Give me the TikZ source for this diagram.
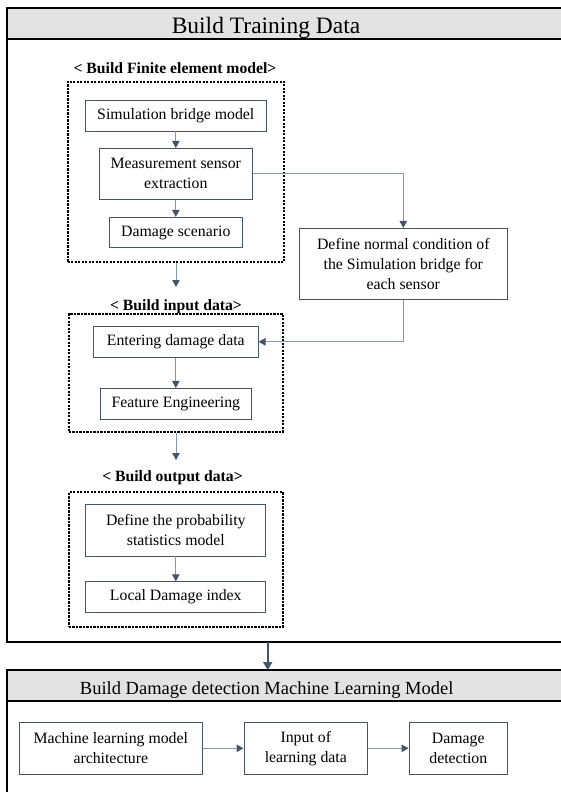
\documentclass[tikz,border=0pt]{standalone}
\usepackage{fontspec}
\setmainfont{Liberation Serif}
\usetikzlibrary{arrows.meta}
\definecolor{boxline}{RGB}{68,84,106}
\definecolor{linkline}{RGB}{132,151,176}
\definecolor{headfill}{RGB}{227,227,227}
\newcommand{\grouplabel}[1]{\textbf{< #1>}}

\begin{document}
\begin{tikzpicture}[x = 1pt, y = -1pt,
	box/.style = {rectangle, draw = boxline, line width = 0.8pt, align = center, inner sep = 0pt, font = \fontsize{15.8}{20}\selectfont},
	group/.style = {rectangle, draw = black, line width = 2.2pt, dash pattern = on 2.2pt off 1.3pt, inner sep = 0pt},
	tag/.style = {anchor = base, inner sep = 0pt, font = \fontsize{15.7}{19}\selectfont},
	frame/.style = {draw = black, line width = 2pt},
	link/.style = {draw = linkline, line width = 0.9pt, -{Triangle[length = 7pt, width = 7.5pt, color = boxline]}},
	biglink/.style = {draw = boxline, line width = 1.8pt, -{Triangle[length = 8pt, width = 9pt]}}]

	\clip (0, 0) rectangle (561, 792);

	% frames
	\draw[frame] (7.3, 8.3) rectangle (566, 641.7);
	\draw[frame, fill = headfill] (7.3, 8.3) rectangle (566, 39.5);
	\node (traintitle) at (266, 33.3) [tag, font = \fontsize{23.5}{28}\selectfont] {Build Training Data};
	\draw[frame] (7.3, 670) rectangle (566, 800);
	\draw[frame, fill = headfill] (7.3, 670) rectangle (566, 701);
	\node (mltitle) at (266.7, 694.3) [tag, font = \fontsize{18.5}{22}\selectfont] {Build Damage detection Machine Learning Model};

	% groups
	\node (fe)  at (176, 171.7) [group, minimum width = 216.6, minimum height = 180] {};
	\node (in)  at (176, 372.8) [group, minimum width = 214.3, minimum height = 117.7] {};
	\node (out) at (176, 559.5) [group, minimum width = 214.3, minimum height = 134.4] {};
	\node (felabel)  at (175, 74)    [tag] {\grouplabel{Build Finite element model}};
	\node (inlabel)  at (176, 310.5) [tag] {\grouplabel{Build input data}};
	\node (outlabel) at (172.5, 481.7) [tag] {\grouplabel{Build output data}};

	% steps
	\node (sim)   at (175.8, 115.5) [box, minimum width = 181.7, minimum height = 31]   {Simulation bridge model};
	\node (meas)  at (175.8, 173.8) [box, minimum width = 153.7, minimum height = 51]   {Measurement sensor \\ extraction};
	\node (scen)  at (175.8, 232.5) [box, minimum width = 133.3, minimum height = 30.4] {Damage scenario};
	\node (norm)  at (403.3, 263.8) [box, minimum width = 208.7, minimum height = 71]   {Define normal condition of \\ the Simulation bridge for \\ each sensor};
	\node (enter) at (175.8, 341.8) [box, minimum width = 164.6, minimum height = 31.7] {Entering damage data};
	\node (feat)  at (175.8, 403.8) [box, minimum width = 150.3, minimum height = 31]   {Feature Engineering};
	\node (prob)  at (175.8, 530.2) [box, minimum width = 180,   minimum height = 51.7] {Define the probability \\ statistics model};
	\node (ldi)   at (175.8, 597.2) [box, minimum width = 180,   minimum height = 31]   {Local Damage index};
	\node (arch)  at (110.8, 748.3) [box, minimum width = 183,   minimum height = 51.3] {Machine learning model \\ architecture};
	\node (inp)   at (305.8, 748.3) [box, minimum width = 123.7, minimum height = 51.3] {Input of \\ learning data};
	\node (det)   at (458.3, 748.3) [box, minimum width = 98.7,  minimum height = 51.3] {Damage \\ detection};

	\coordinate (feout) at (176, 287);
	\coordinate (inout) at (176, 460);
	\coordinate (trainout) at (267.7, 641.7);
	\coordinate (mlin) at (267.7, 670);

	\foreach \from/\to in {sim/meas, meas/scen, enter/feat, prob/ldi, arch/inp, inp/det, fe/feout, in/inout}
		\path (\from) edge [link] (\to);
	\draw[link] (meas.east) -| (norm.north);
	\draw[link] (norm.south) |- (enter.east);
	\draw[biglink] (trainout) -- (mlin);
\end{tikzpicture}
\end{document}
